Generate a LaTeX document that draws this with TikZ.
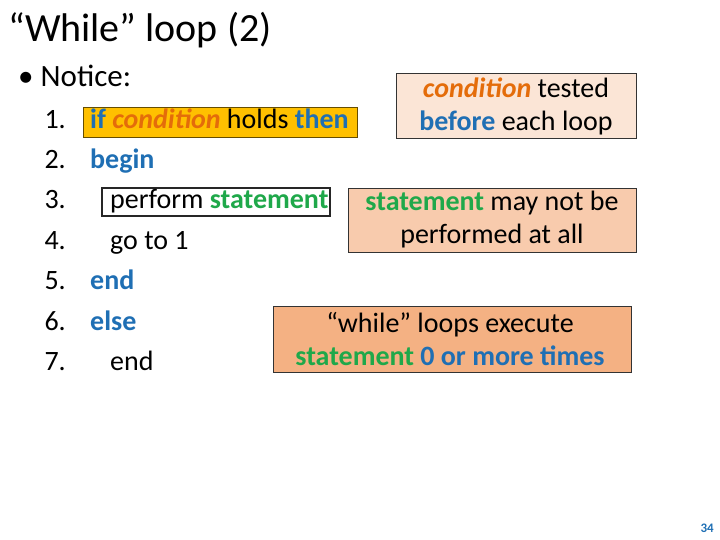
\documentclass[tikz,border=0pt]{standalone}
\usepackage{fontspec}
\setmainfont{Carlito}
\definecolor{kw}{HTML}{1F6FB4}
\definecolor{cond}{HTML}{E46C0A}
\definecolor{st}{HTML}{1FA84A}
\definecolor{gold}{HTML}{FFC000}
\definecolor{pA}{HTML}{FBE5D6}
\definecolor{pB}{HTML}{F8CBAD}
\definecolor{pC}{HTML}{F4B183}
\begin{document}
\begin{tikzpicture}[x=1pt,y=-1pt,
  code/.style={anchor=base west,font=\fontsize{28}{32}\selectfont,inner sep=0},
  num/.style={anchor=base east,font=\fontsize{28}{32}\selectfont,inner sep=0},
  note/.style={draw=black!80,line width=0.8pt},
  ntext/.style={inner sep=0,align=center,font=\fontsize{28}{33}\selectfont}]
\useasboundingbox (0,0) rectangle (720,540);
\node[anchor=base west,inner sep=0,font=\fontsize{40}{44}\selectfont] (title) at (8,42) {“While” loop (2)};
\node[anchor=base west,inner sep=0,font=\fontsize{31}{34}\selectfont] (notice) at (18,87) {• Notice:};
\draw[fill=gold,draw=black!60!gold,line width=0.8pt] (83,107) rectangle (357,137);
\draw[draw=black!85,line width=1.2pt] (102,188) rectangle (330,216);
\foreach \n/\y in {1/129,2/169,3/209,4/249,5/289,6/330,7/370}
  \node[num] (n\n) at (66,\y) {\n.};
\node[code] (l1) at (90,129) {\textcolor{kw}{\textbf{if}} \textcolor{cond}{\textbf{\textit{condition}}} holds \textcolor{kw}{\textbf{then}}};
\node[code] (l2) at (90,169) {\textcolor{kw}{\textbf{begin}}};
\node[code] (l3) at (110,209) {perform \textcolor{st}{\textbf{statement}}};
\node[code] (l4) at (110,249) {go to 1};
\node[code] (l5) at (90,289) {\textcolor{kw}{\textbf{end}}};
\node[code] (l6) at (90,330) {\textcolor{kw}{\textbf{else}}};
\node[code] (l7) at (110,370) {end};
\path[note,fill=pA] (396,73) rectangle (636,138);
\node[ntext] (nA) at (516,106) {\textcolor{cond}{\textbf{\textit{condition}}} tested\\\textcolor{kw}{\textbf{before}} each loop};
\path[note,fill=pB] (348,188) rectangle (636,252);
\node[ntext] (nB) at (492,220) {\textcolor{st}{\textbf{statement}} may not be\\performed at all};
\path[note,fill=pC] (273,306) rectangle (631,372);
\node[ntext] (nC) at (450,339) {“while” loops execute\\\textcolor{st}{\textbf{statement}} \textcolor{kw}{\textbf{0 or more times}}};
\node[anchor=base east,inner sep=0,font=\bfseries\fontsize{13}{15}\selectfont,text=kw] (pg) at (714,532) {34};
\end{tikzpicture}
\end{document}
